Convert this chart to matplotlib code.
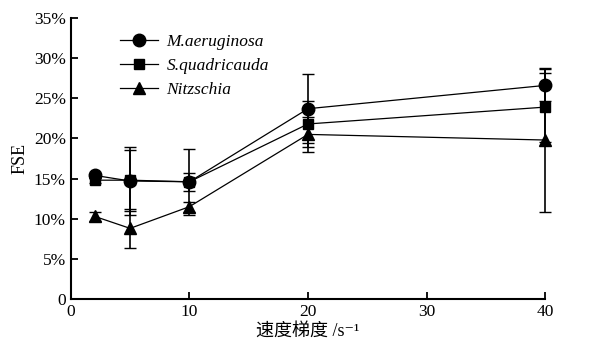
import matplotlib
matplotlib.use("Agg")
import matplotlib.pyplot as plt
from matplotlib.ticker import FuncFormatter

# 速度梯度 (s^-1)
gradient = [2, 5, 10, 20, 40]

# FSE values (%) and error bars
fse_ma = [15.4, 14.7, 14.6, 23.7, 26.6]
err_ma = [0.3, 4.2, 4.1, 4.3, 2.0]
fse_sq = [14.8, 14.8, 14.6, 21.8, 23.9]
err_sq = [0.3, 3.8, 1.1, 2.9, 4.3]
fse_nz = [10.3, 8.8, 11.5, 20.5, 19.8]
err_nz = [0.6, 2.4, 0.6, 2.2, 9.0]

labels = ["M.aeruginosa", "S.quadricauda", "Nitzschia"]

plt.rcParams["font.family"] = ["Liberation Serif", "Noto Sans CJK SC", "DejaVu Serif"]

fig = plt.figure(figsize=(5.9, 3.59), dpi=100)
ax = fig.add_axes([0.12, 0.167, 0.804, 0.783])

series = [(fse_ma, err_ma, "o", 9), (fse_sq, err_sq, "s", 7.5), (fse_nz, err_nz, "^", 9)]
handles = []
for (vals, errs, mk, ms), lab in zip(series, labels):
    c = ax.errorbar(gradient, vals, yerr=errs, marker=mk, markersize=ms, color="black",
                    lw=0.9, elinewidth=1.2, capsize=4, capthick=1.0, label=lab)
    c[0].set_clip_on(False)
    for art in c[1] + c[2]:
        art.set_clip_on(False)
    handles.append(c[0])

ax.set_xlim(0, 40)
ax.set_ylim(0, 35)
ax.set_xticks([0, 10, 20, 30, 40])
ax.set_yticks(range(0, 36, 5))
ax.yaxis.set_major_formatter(FuncFormatter(lambda v, p: "0" if v == 0 else f"{int(v)}%"))
ax.spines["top"].set_visible(False)
ax.spines["right"].set_visible(False)
ax.spines["left"].set_linewidth(1.5)
ax.spines["bottom"].set_linewidth(1.5)
ax.tick_params(direction="in", length=5, width=1.3, labelsize=12.5)

ax.set_xlabel("速度梯度 /s⁻¹", fontsize=13, labelpad=2)
ax.set_ylabel("FSE", fontsize=13)

leg = ax.legend(handles, labels, loc="upper left", bbox_to_anchor=(0.07, 1.0), frameon=False,
                fontsize=12.5, handlelength=2.2, handletextpad=0.5, labelspacing=0.45)
for t in leg.get_texts():
    t.set_fontstyle("italic")

fig.savefig("out.png", dpi=100)
